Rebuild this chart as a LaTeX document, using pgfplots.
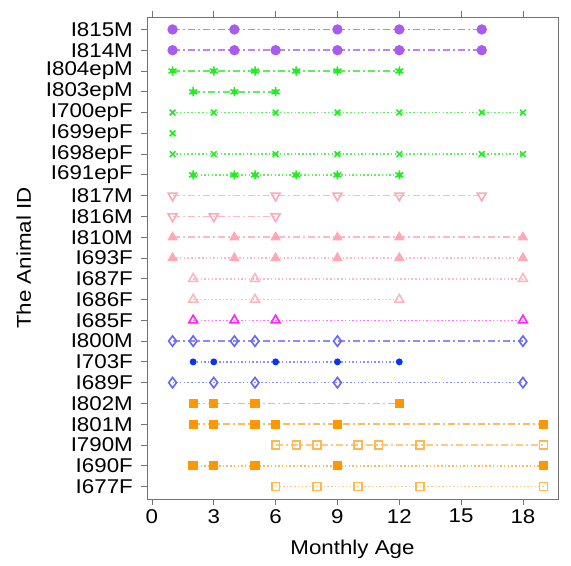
\documentclass[border=0pt]{standalone}
\usepackage{fontspec}
\setmainfont{Liberation Sans}[FakeStretch=1.12]
\usepackage{pgfplots}
\pgfplotsset{compat=1.18}

% marker colours and lighter line colours
\definecolor{purp}{HTML}{AA5AEC}
\definecolor{purpL}{HTML}{C084F2}
\definecolor{grn}{HTML}{22EC22}
\definecolor{grnL}{HTML}{5EEF5E}
\definecolor{pnk}{HTML}{FFA8B8}
\definecolor{pnkL}{HTML}{FFB8C6}
\definecolor{pnk2}{HTML}{FFB4C4}
\definecolor{mag}{HTML}{FF22FF}
\definecolor{magL}{HTML}{FF70FF}
\definecolor{blu}{HTML}{6666FF}
\definecolor{bluL}{HTML}{8C8CFF}
\definecolor{dblu}{HTML}{0A32F5}
\definecolor{org}{HTML}{FF9800}
\definecolor{orgL}{HTML}{FFBC55}
\definecolor{lorg}{HTML}{FFB850}
\definecolor{lorgL}{HTML}{FFCA7E}

\pgfdeclareplotmark{dotast}{%
  \pgfpathcircle{\pgfpoint{0pt}{0pt}}{0.6\pgfplotmarksize}\pgfusepathqfill
  \pgfuseplotmark{asterisk}}

\tikzset{
  dd/.style={line width=1.5bp, dash pattern=on 7bp off 3bp on 2bp off 3bp},
  dt/.style={line width=1.6bp, dash pattern=on 1.5bp off 2.2bp},
}

\begin{document}
\begin{tikzpicture}
\begin{axis}[
    name=ax,
    scale only axis,
    width=411bp, height=482bp,
    xmin=-0.24, xmax=19.7,
    ymin=0.4, ymax=23.6,
    axis line style={black!55},
    tick style={black!55, line width=0.8bp},
    tick align=outside,
    major tick length=6bp,
    xtick={0,3,...,18},
    xtick pos=both,
    ytick pos=left,
    ytick={1,...,23},
    yticklabels={I677F,I690F,I790M,I801M,I802M,I689F,I703F,I800M,I685F,I686F,I687F,I693F,I810M,I816M,I817M,I691epF,I698epF,I699epF,I700epF,I803epM,I804epM,I814M,I815M},
    /pgf/number format/assume math mode=true,
    tick label style={font=\fontsize{20}{20}\selectfont},
    yticklabel style={inner sep=0bp, xshift=-8bp},
    xticklabel style={inner sep=0bp, yshift=-4bp},
    xlabel={Monthly Age},
    ylabel={The Animal ID},
    label style={font=\fontsize{20}{20}\selectfont},
    xlabel style={at={(axis description cs:0.5,-0.105)}, anchor=center},
    ylabel style={at={(axis description cs:-0.30,0.5)}, anchor=center},
    clip=false,
]
% purple
\addplot[purpL, dd, mark=*, mark size=4.4bp, mark options={solid, draw=purp, fill=purp}] coordinates {(1,23)(4,23)(9,23)(12,23)(16,23)};
\addplot[purpL, dd, mark=*, mark size=4.4bp, mark options={solid, draw=purp, fill=purp}] coordinates {(1,22)(4,22)(6,22)(9,22)(12,22)(16,22)};
% green
\addplot[grnL, dd, mark=dotast, mark size=4.6bp, mark options={solid, draw=grn, fill=grn, line width=1.5bp}] coordinates {(1,21)(3,21)(5,21)(7,21)(9,21)(12,21)};
\addplot[grnL, dd, mark=dotast, mark size=4.6bp, mark options={solid, draw=grn, fill=grn, line width=1.5bp}] coordinates {(2,20)(4,20)(6,20)};
\addplot[grnL, dt, mark=x, mark size=4bp, mark options={solid, draw=grn, line width=1.6bp}] coordinates {(1,19)(3,19)(6,19)(9,19)(12,19)(16,19)(18,19)};
\addplot[grnL, dt, mark=x, mark size=4bp, mark options={solid, draw=grn, line width=1.6bp}] coordinates {(1,18)};
\addplot[grnL, dt, mark=x, mark size=4bp, mark options={solid, draw=grn, line width=1.6bp}] coordinates {(1,17)(3,17)(6,17)(9,17)(12,17)(16,17)(18,17)};
\addplot[grnL, dt, mark=dotast, mark size=4.6bp, mark options={solid, draw=grn, fill=grn, line width=1.5bp}] coordinates {(2,16)(4,16)(5,16)(7,16)(9,16)(12,16)};
% pink
\addplot[pnkL, dd, mark=triangle, mark size=5.2bp, mark options={solid, draw=pnk, rotate=180, line width=1.6bp}] coordinates {(1,15)(6,15)(9,15)(12,15)(16,15)};
\addplot[pnkL, dd, mark=triangle, mark size=5.2bp, mark options={solid, draw=pnk, rotate=180, line width=1.6bp}] coordinates {(1,14)(3,14)(6,14)};
\addplot[pnkL, dd, mark=triangle*, mark size=4.6bp, mark options={solid, draw=pnk, fill=pnk}] coordinates {(1,13)(4,13)(6,13)(9,13)(12,13)(18,13)};
\addplot[pnkL, dt, mark=triangle*, mark size=4.6bp, mark options={solid, draw=pnk, fill=pnk}] coordinates {(1,12)(4,12)(6,12)(9,12)(12,12)(18,12)};
\addplot[pnkL, dt, mark=triangle, mark size=5.2bp, mark options={solid, draw=pnk2, line width=1.6bp}] coordinates {(2,11)(5,11)(18,11)};
\addplot[pnkL, dt, mark=triangle, mark size=5.2bp, mark options={solid, draw=pnk2, line width=1.6bp}] coordinates {(2,10)(5,10)(12,10)};
\addplot[magL, dt, mark=triangle, mark size=5.2bp, mark options={solid, draw=mag, line width=1.6bp}] coordinates {(2,9)(4,9)(6,9)(18,9)};
% blue
\addplot[bluL, dd, mark=diamond, mark size=5.2bp, mark options={solid, draw=blu, line width=1.6bp}] coordinates {(1,8)(2,8)(4,8)(5,8)(9,8)(18,8)};
\addplot[bluL, dt, mark=*, mark size=2.6bp, mark options={solid, draw=dblu, fill=dblu}] coordinates {(2,7)(3,7)(6,7)(9,7)(12,7)};
\addplot[bluL, dt, mark=diamond, mark size=5.2bp, mark options={solid, draw=blu, line width=1.6bp}] coordinates {(1,6)(3,6)(5,6)(9,6)(18,6)};
% orange
\addplot[orgL, dd, mark=square*, mark size=3.9bp, mark options={solid, draw=org, fill=org}] coordinates {(2,5)(3,5)(5,5)(12,5)};
\addplot[orgL, dd, mark=square*, mark size=3.9bp, mark options={solid, draw=org, fill=org}] coordinates {(2,4)(3,4)(5,4)(6,4)(9,4)(19,4)};
\addplot[lorgL, dd, mark=square, mark size=3.9bp, mark options={solid, draw=lorg, line width=1.6bp}] coordinates {(6,3)(7,3)(8,3)(10,3)(11,3)(13,3)(19,3)};
\addplot[orgL, dt, mark=square*, mark size=3.9bp, mark options={solid, draw=org, fill=org}] coordinates {(2,2)(3,2)(5,2)(9,2)(19,2)};
\addplot[lorgL, dt, mark=square, mark size=3.9bp, mark options={solid, draw=lorg, line width=1.6bp}] coordinates {(6,1)(8,1)(10,1)(13,1)(19,1)};
\end{axis}
\pgfresetboundingbox
\path ([shift={(-147bp,-67bp)}]ax.south west) rectangle ++(571bp,566bp);
\end{tikzpicture}
\end{document}
